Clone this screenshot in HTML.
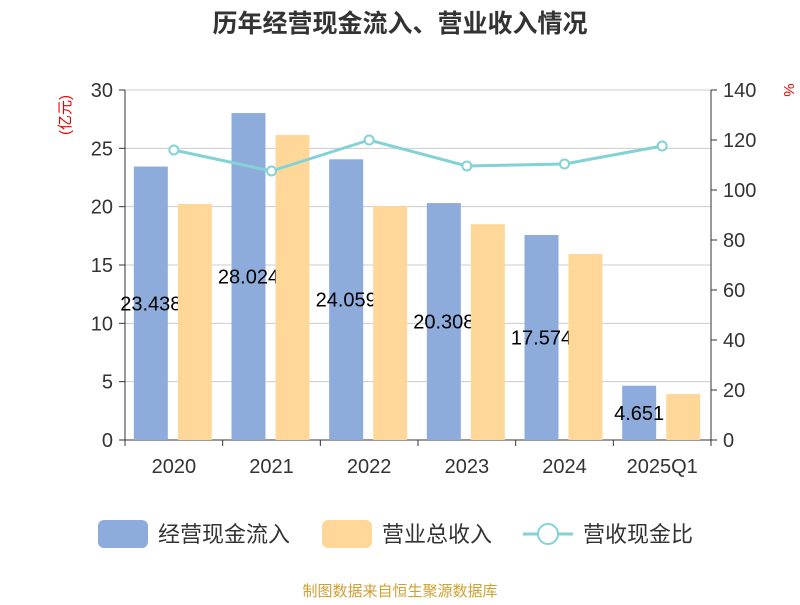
<!DOCTYPE html>
<html><head><meta charset="utf-8"><style>
body{margin:0;background:#fff}
svg text{font-family:"Liberation Sans","Noto Sans CJK SC",sans-serif}
</style></head><body>
<svg id="c" width="800" height="600" xmlns="http://www.w3.org/2000/svg">
<text x="400" y="32" text-anchor="middle" font-size="25" font-weight="bold" fill="#333">历年经营现金流入、营业收入情况</text>
<text transform="translate(70,115) rotate(-90)" text-anchor="middle" font-size="15" fill="#e00">(亿元)</text>
<text transform="translate(784,90) rotate(90)" text-anchor="middle" font-size="15" fill="#e00">%</text>
<g id="grid"></g><g id="bars"></g><g id="line"></g>
<g>
<rect x="98" y="520" width="50" height="28" rx="6" fill="#8eacdb"/>
<text x="158" y="542" font-size="22" fill="#333">经营现金流入</text>
<rect x="322" y="520" width="50" height="28" rx="6" fill="#ffd899"/>
<text x="382" y="542" font-size="22" fill="#333">营业总收入</text>
<line x1="523" y1="534" x2="573" y2="534" stroke="#82d2d6" stroke-width="3"/>
<circle cx="548" cy="534" r="10" fill="#fff" stroke="#82d2d6" stroke-width="2"/>
<text x="583" y="542" font-size="22" fill="#333">营收现金比</text>
</g>
<text x="400" y="596" text-anchor="middle" font-size="15" fill="#d0a030">制图数据来自恒生聚源数据库</text>
</svg>
<script>
const categories=["2020","2021","2022","2023","2024","2025Q1"];
const cashIn=[23.438,28.024,24.059,20.308,17.574,4.651];
const revenue=[20.23,26.14,20.06,18.5,15.94,3.94];
const ratio=[116,107.6,120,109.6,110.4,117.6];
const leftTicks=[0,5,10,15,20,25,30];
const rightTicks=[0,20,40,60,80,100,120,140];
const NS="http://www.w3.org/2000/svg";
const L=125,R=711,T=90,B=440;
const yL=v=>B-(v/30)*(B-T), yR=v=>B-(v/140)*(B-T);
const bw=(R-L)/categories.length, xc=i=>L+bw*(i+0.5);
function mk(p,tag,a){const e=document.createElementNS(NS,tag);for(const k in a)e.setAttribute(k,a[k]);p.appendChild(e);return e;}
const g=document.getElementById('grid'),bg=document.getElementById('bars'),lg=document.getElementById('line');
leftTicks.forEach(v=>{const y=yL(v);
const ln=mk(g,'line',{x1:L,x2:R,y1:y,y2:y,stroke:'#ccc','stroke-width':1});


mk(g,'line',{x1:L-6,x2:L,y1:y,y2:y,stroke:'#333'});
const t=mk(g,'text',{x:L-12,y:y+7,'text-anchor':'end','font-size':20,fill:'#333'});t.textContent=v;

});
rightTicks.forEach(v=>{const y=yR(v);
mk(g,'line',{x1:R,x2:R+6,y1:y,y2:y,stroke:'#333'});
const t=mk(g,'text',{x:R+12,y:y+7,'font-size':20,fill:'#333'});t.textContent=v;

});
mk(g,'line',{x1:L,x2:L,y1:T,y2:B,stroke:'#333'});
mk(g,'line',{x1:R,x2:R,y1:T,y2:B,stroke:'#333'});
mk(g,'line',{x1:L,x2:R,y1:B,y2:B,stroke:'#333'});
categories.forEach((c,i)=>{
const xs=L+bw*i; mk(g,'line',{x1:xs,x2:xs,y1:B,y2:B+6,stroke:'#333'});
if(i==categories.length-1)mk(g,'line',{x1:R,x2:R,y1:B,y2:B+6,stroke:'#333'});
const t=mk(g,'text',{x:xc(i),y:B+33,'text-anchor':'middle','font-size':20,fill:'#333'});t.textContent=c;


const b=mk(bg,'rect',{x:xc(i)-40,y:yL(cashIn[i]),width:34,height:B-yL(cashIn[i]),fill:'#8eacdb'});


const lb=mk(bg,'text',{x:xc(i)-23,y:(yL(cashIn[i])+B)/2+7,'text-anchor':'middle','font-size':20,fill:'#000'});lb.textContent=cashIn[i];

});
categories.forEach((c,i)=>{
const b=mk(bg,'rect',{x:xc(i)+4,y:yL(revenue[i]),width:34,height:B-yL(revenue[i]),fill:'#ffd899'});

});
const pl=mk(lg,'polyline',{points:ratio.map((v,i)=>xc(i)+','+yR(v)).join(' '),fill:'none',stroke:'#82d2d6','stroke-width':3});


ratio.forEach((v,i)=>{const p=mk(lg,'circle',{cx:xc(i),cy:yR(v),r:4.5,fill:'#fff',stroke:'#82d2d6','stroke-width':2});

});
</script>
</body></html>
